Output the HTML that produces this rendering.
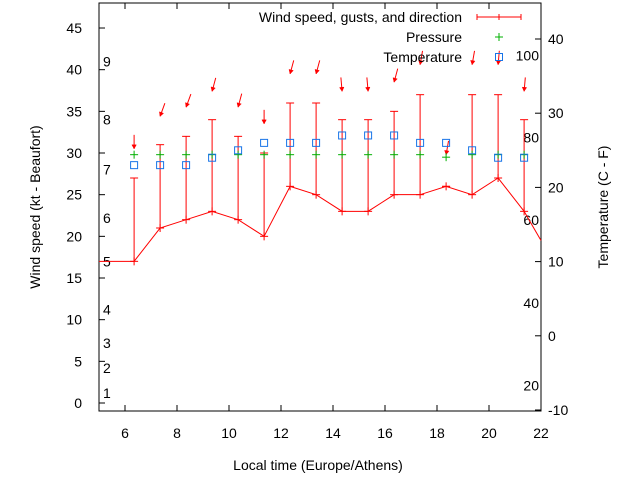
<!DOCTYPE html>
<html><head><meta charset="utf-8"><style>
html,body{margin:0;padding:0;background:#fff}
svg{display:block;font-family:"Liberation Sans",sans-serif}
</style></head><body>
<svg id="c" width="640" height="480" viewBox="0 0 640 480"></svg>
<script>
const hours=[6.35,7.35,8.35,9.35,10.35,11.35,12.35,13.35,14.35,15.35,16.35,17.35,18.35,19.35,20.35,21.35];
const windSpeed=[17,21,22,23,22,20,26,25,23,23,25,25,26,25,27,23];
const gusts=[27,31,32,34,32,30,36,36,34,34,35,37,26,37,37,34];
const pressure=[29.8,29.8,29.8,29.8,29.8,29.8,29.8,29.8,29.8,29.8,29.8,29.8,29.5,29.8,29.8,29.8];
const temperature=[23,23,23,24,25,26,26,26,27,27,27,26,26,25,24,24];
const arrowLevel=[30.5,34.4,35.5,37.4,35.5,33.5,39.5,39.5,37.4,37.4,38.5,40.6,29.8,40.6,40.6,37.4];
const arrowDir=[0,20,20,15,15,0,15,15,-5,-5,15,10,10,10,5,5];
const xTicks=[6,8,10,12,14,16,18,20,22];
const yTicks=[0,5,10,15,20,25,30,35,40,45];
const y2Ticks=[-10,0,10,20,30,40];
const beaufort=[[1,1.2],[2,4.2],[3,7.2],[4,11.2],[5,17],[6,22.2],[7,28],[8,34],[9,41]];
const fahr=[[20,-6.7],[40,4.4],[60,15.6],[80,26.7],[100,37.8]];

const L=99,R=541,T=3,B=411;
const X=h=>L+(h-5)*26;
const Y=v=>403-v*8.333;
const Y2=t=>410-(t+10)*7.42;
const svg=document.getElementById('c');
const NS='http://www.w3.org/2000/svg';
function el(tag,attrs,parent){const e=document.createElementNS(NS,tag);for(const k in attrs)e.setAttribute(k,attrs[k]);(parent||svg).appendChild(e);return e;}
function txt(s,x,y,anchor,parent){const t=el('text',{x:x,y:y,'font-size':14,'text-anchor':anchor||'start',fill:'#000'},parent);t.textContent=s;return t;}

const axes=el('g',{});


el('rect',{x:L,y:T,width:R-L,height:B-T,fill:'none',stroke:'#000','stroke-width':1},axes);
xTicks.forEach(h=>{const x=X(h);el('line',{x1:x,y1:B,x2:x,y2:B-6,stroke:'#000'},axes);el('line',{x1:x,y1:T,x2:x,y2:T+6,stroke:'#000'},axes);
 const t=txt(String(h),x,438,'middle',axes);});
yTicks.forEach(v=>{const y=Y(v);el('line',{x1:L,y1:y,x2:L+6,y2:y,stroke:'#000'},axes);
 const t=txt(String(v),82,y+5,'end',axes);});
y2Ticks.forEach(v=>{const y=Y2(v);el('line',{x1:R,y1:y,x2:R-6,y2:y,stroke:'#000'},axes);
 const t=txt(String(v),548,y+5,'start',axes);});
beaufort.forEach(([n,v])=>{const t=txt(String(n),103,Y(v)+5,'start',axes);});
fahr.forEach(([f,c])=>{const t=txt(String(f),539,Y2(c)+5,'end',axes);});

let t=txt('Local time (Europe/Athens)',318,470,'middle');

t=txt('Wind speed (kt - Beaufort)',0,0,'middle');
t.setAttribute('transform','translate(40,207) rotate(-90)');

t=txt('Temperature (C - F)',0,0,'middle');
t.setAttribute('transform','translate(608,207) rotate(-90)');


const red='#ff0000';
let pts=[[X(5),Y(windSpeed[0])]].concat(hours.map((h,i)=>[X(h),Y(windSpeed[i])]));
pts.push([R,Y(19.5)]);
const line=el('polyline',{points:pts.map(p=>p.join(',')).join(' '),fill:'none',stroke:red,'stroke-width':1});

hours.forEach((h,i)=>{
 const x=X(h),y=Y(windSpeed[i]),g=Y(gusts[i]);
 const bar=el('g',{stroke:red,'stroke-width':1});
 
 el('line',{x1:x,y1:y,x2:x,y2:g},bar);
 el('line',{x1:x-4,y1:g,x2:x+4,y2:g},bar);
 el('line',{x1:x-4,y1:y,x2:x+4,y2:y},bar);
 el('line',{x1:x,y1:y-4,x2:x,y2:y+4},bar);
 const ay=Y(arrowLevel[i]),ang=arrowDir[i]*Math.PI/180,len=14;
 const tx=x+len*Math.sin(ang),ty=ay-len*Math.cos(ang);
 const ar=el('g',{stroke:red,fill:red,'stroke-width':1});
 
 el('line',{x1:tx,y1:ty,x2:x,y2:ay},ar);
 const s=Math.sin(ang),c=Math.cos(ang);
 el('polygon',{points:`${x},${ay} ${x-2.2*c+4*s},${ay-4*c-2.2*s} ${x+2.2*c+4*s},${ay-4*c+2.2*s}`,'stroke-width':0.5},ar);
 const py=Y(pressure[i]);
 const p=el('g',{stroke:'#00b000','stroke-width':1});
 
 el('line',{x1:x-4,y1:py,x2:x+4,y2:py},p);el('line',{x1:x,y1:py-4,x2:x,y2:py+4},p);
 const ty2=Y2(temperature[i]);
 const sq=el('rect',{x:x-3.5,y:ty2-3.5,width:7,height:7,fill:'none',stroke:'#1874e8','stroke-width':1});
 
});

const lg=el('g',{});

let e=txt('Wind speed, gusts, and direction',462,22,'end',lg);

el('line',{x1:477,y1:17,x2:521,y2:17,stroke:red},lg);
el('line',{x1:477,y1:14,x2:477,y2:20,stroke:red},lg);
el('line',{x1:521,y1:14,x2:521,y2:20,stroke:red},lg);
el('line',{x1:499,y1:14,x2:499,y2:20,stroke:red},lg);
e=txt('Pressure',462,42,'end',lg);

el('line',{x1:495,y1:37,x2:503,y2:37,stroke:'#00b000'},lg);el('line',{x1:499,y1:33,x2:499,y2:41,stroke:'#00b000'},lg);
e=txt('Temperature',462,62,'end',lg);

el('rect',{x:495.5,y:53.5,width:7,height:7,fill:'none',stroke:'#1874e8'},lg);
</script>
</body></html>
